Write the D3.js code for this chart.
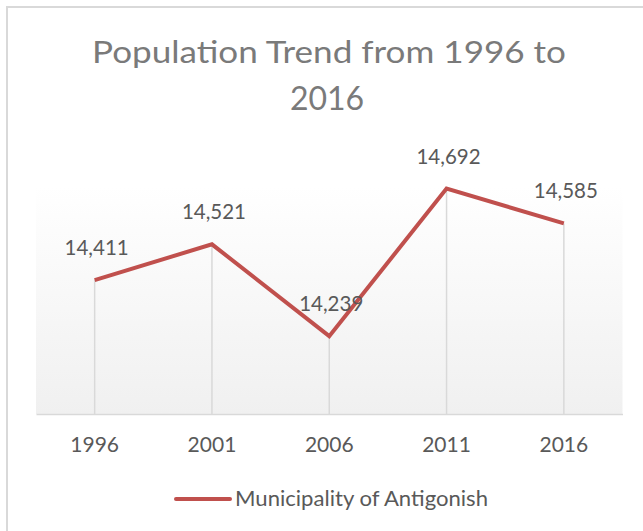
<!DOCTYPE html>
<html>
<head>
<meta charset="utf-8">
<script src="https://cdn.jsdelivr.net/npm/d3@7"></script>
<style>
  html, body { margin: 0; padding: 0; background: #fff; }
  svg { display: block; }
  text { font-family: Lato, "Open Sans", sans-serif; }
</style>
</head>
<body>
<svg id="chart" width="643" height="531"></svg>
<script>
const titleLines = ["Population Trend from 1996 to", "2016"];
const years = ["1996", "2001", "2006", "2011", "2016"];
const population = [14411, 14521, 14239, 14692, 14585];
const seriesName = "Municipality of Antigonish";
const yDomain = [14000, 14700];

const W = 643, H = 531;
const svg = d3.select("#chart");

// outer chart border
svg.append("rect")
  .attr("x", 7).attr("y", 7)
  .attr("width", W + 20).attr("height", H + 20)
  .attr("fill", "#fff")
  .attr("stroke", "#d9d9d9").attr("stroke-width", 2);

// title
const title = svg.append("g");
title.append("text")
  .attr("x", 329).attr("y", 63)
  .attr("text-anchor", "middle")
  .attr("font-size", 31.5)
  .attr("fill", "#7a7a7a")
  .attr("textLength", 474).attr("lengthAdjust", "spacingAndGlyphs")
  .text(titleLines[0]);
title.append("text")
  .attr("x", 327).attr("y", 110)
  .attr("text-anchor", "middle")
  .attr("font-size", 32)
  .attr("fill", "#7a7a7a")
  .text(titleLines[1]);

const x = d3.scaleBand().domain(years).range([36, 622.5]);
const y = d3.scaleLinear().domain(yDomain).range([414, 186]);

// plot area gradient
const defs = svg.append("defs");
const grad = defs.append("linearGradient").attr("id", "plotGrad")
  .attr("x1", 0).attr("y1", 0).attr("x2", 0).attr("y2", 1);
grad.append("stop").attr("offset", "0%").attr("stop-color", "#ffffff");
grad.append("stop").attr("offset", "100%").attr("stop-color", "#f0f0f0");

svg.append("rect")
  .attr("x", x.range()[0]).attr("y", y(yDomain[1]))
  .attr("width", x.range()[1] - x.range()[0])
  .attr("height", y(yDomain[0]) - y(yDomain[1]))
  .attr("fill", "url(#plotGrad)");

const cx = d => x(d) + x.bandwidth() / 2;

// drop lines
svg.append("g").selectAll("line").data(years).join("line")
  .attr("x1", d => cx(d)).attr("x2", d => cx(d))
  .attr("y1", (d, i) => y(population[i])).attr("y2", y(yDomain[0]))
  .attr("stroke", "#d9d9d9").attr("stroke-width", 1.5);

// x axis
const xAxis = svg.append("g")
  .attr("transform", `translate(0,${y(yDomain[0])})`)
  .call(d3.axisBottom(x).tickSize(0).tickPadding(0));
xAxis.select(".domain").attr("stroke", "#d9d9d9").attr("stroke-width", 1.5);
xAxis.selectAll("text")
  .attr("font-family", "Lato, 'Open Sans', sans-serif")
  .attr("font-size", 21).attr("fill", "#595959")
  .attr("dy", null).attr("y", 38);

// line
const line = d3.line().x((d, i) => cx(years[i])).y(d => y(d));
svg.append("path").datum(population)
  .attr("d", line)
  .attr("fill", "none")
  .attr("stroke", "#c0504d").attr("stroke-width", 4)
  .attr("stroke-linejoin", "miter").attr("stroke-linecap", "butt");

// data labels
svg.append("g").selectAll("text").data(population).join("text")
  .attr("x", (d, i) => cx(years[i]) + 2)
  .attr("y", d => y(d) - 25)
  .attr("text-anchor", "middle")
  .attr("font-size", 20.5).attr("fill", "#595959")
  .text(d => d3.format(",")(d));

// legend
const lg = svg.append("g");
lg.append("line")
  .attr("x1", 176).attr("x2", 230).attr("y1", 499).attr("y2", 499)
  .attr("stroke", "#c0504d").attr("stroke-width", 4).attr("stroke-linecap", "round");
lg.append("text")
  .attr("x", 235).attr("y", 506)
  .attr("font-size", 20.5).attr("fill", "#595959")
  .attr("textLength", 253).attr("lengthAdjust", "spacingAndGlyphs")
  .text(seriesName);
</script>
</body>
</html>
